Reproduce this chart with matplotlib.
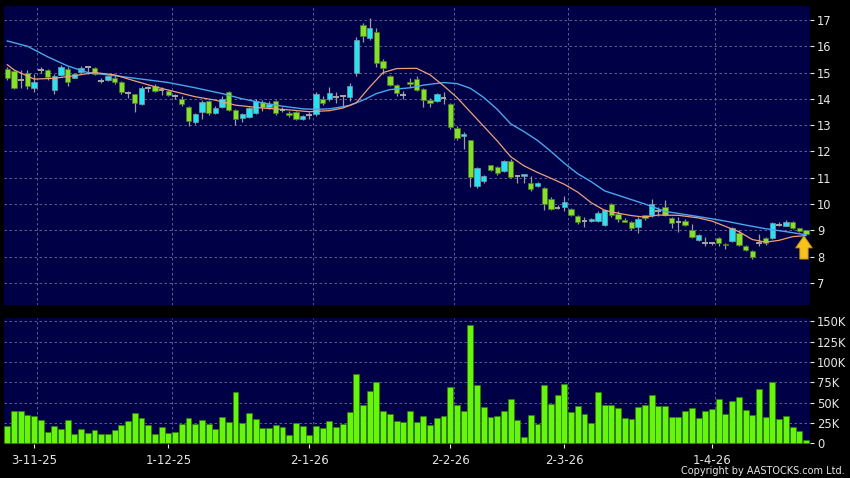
import matplotlib
matplotlib.use("Agg")
import matplotlib.pyplot as plt
import numpy as np

# daily OHLC (HKD)
opens = [15.14, 15.06, 14.70, 15.00, 14.43, 15.10, 15.10, 14.34, 14.91, 15.14,
         14.81, 15.01, 15.22, 15.19, 14.68, 14.72, 14.81, 14.65, 14.21, 14.17,
         13.80, 14.40, 14.50, 14.34, 14.30, 14.12, 14.00, 13.70, 13.11, 13.49,
         13.92, 13.45, 13.70, 14.25, 13.58, 13.26, 13.32, 13.45, 13.87, 13.69,
         13.90, 13.58, 13.48, 13.51, 13.24, 13.39, 13.41, 13.98, 13.98, 14.06,
         14.10, 14.06, 14.97, 16.81, 16.30, 16.56, 15.45, 14.85, 14.53, 14.13,
         14.65, 14.76, 14.38, 13.97, 13.90, 14.05, 13.80, 12.88, 12.58, 12.43,
         10.69, 10.86, 11.48, 11.42, 11.25, 11.65, 11.06, 11.06, 10.80, 10.68,
         10.62, 10.20, 9.85, 9.90, 9.81, 9.56, 9.37, 9.37, 9.37, 9.20,
         10.00, 9.62, 9.39, 9.30, 9.12, 9.58, 9.58, 9.75, 9.87, 9.47,
         9.30, 9.37, 9.00, 8.65, 8.51, 8.52, 8.70, 8.48, 8.61, 8.89,
         8.42, 8.22, 8.50, 8.70, 8.71, 9.22, 9.18, 9.32, 9.07, 9.00]
closes = [14.81, 14.43, 14.70, 14.47, 14.65, 15.10, 14.82, 14.88, 15.22, 14.65,
          14.94, 15.19, 15.22, 14.94, 14.68, 14.88, 14.63, 14.25, 14.21, 13.83,
          14.40, 14.40, 14.30, 14.34, 14.15, 14.12, 13.80, 13.16, 13.41, 13.87,
          13.45, 13.67, 14.00, 13.58, 13.24, 13.41, 13.67, 13.92, 13.69, 13.79,
          13.45, 13.58, 13.38, 13.22, 13.35, 13.39, 14.17, 13.83, 14.21, 14.06,
          14.10, 14.47, 16.24, 16.39, 16.68, 15.38, 15.16, 14.53, 14.21, 14.13,
          14.57, 14.34, 13.96, 13.86, 14.19, 14.05, 12.94, 12.50, 12.66, 11.04,
          11.37, 11.06, 11.29, 11.17, 11.65, 11.04, 11.06, 11.13, 10.56, 10.80,
          9.99, 9.82, 9.85, 10.08, 9.60, 9.30, 9.37, 9.43, 9.67, 9.76,
          9.58, 9.43, 9.33, 9.08, 9.43, 9.45, 10.00, 9.75, 9.58, 9.27,
          9.30, 9.22, 8.75, 8.82, 8.51, 8.52, 8.52, 8.43, 9.08, 8.44,
          8.24, 8.00, 8.50, 8.50, 9.29, 9.22, 9.32, 9.08, 8.98, 8.87]
highs = [15.20, 15.10, 15.10, 15.10, 14.95, 15.20, 15.15, 14.95, 15.28, 15.20,
         15.00, 15.26, 15.25, 15.22, 14.80, 14.92, 14.92, 14.68, 14.28, 14.20,
         14.48, 14.50, 14.55, 14.45, 14.35, 14.20, 14.10, 13.73, 13.45, 13.95,
         13.95, 13.72, 14.10, 14.30, 13.60, 13.45, 13.70, 14.00, 13.95, 13.92,
         13.95, 13.70, 13.55, 13.55, 13.38, 13.50, 14.25, 14.10, 14.45, 14.25,
         14.15, 14.60, 16.35, 16.88, 17.09, 16.70, 15.50, 14.92, 14.55, 14.30,
         14.80, 14.85, 14.40, 14.05, 14.22, 14.25, 13.85, 12.98, 12.72, 12.45,
         11.42, 11.12, 11.50, 11.45, 11.68, 11.70, 11.12, 11.15, 11.08, 10.85,
         10.65, 10.25, 9.98, 10.30, 9.85, 9.60, 9.50, 9.48, 9.75, 9.80,
         10.05, 9.72, 9.45, 9.35, 9.50, 9.60, 10.18, 9.90, 10.15, 9.50,
         9.50, 9.42, 9.25, 8.85, 8.75, 8.55, 8.75, 8.50, 9.12, 9.00,
         8.45, 8.25, 8.85, 8.75, 9.32, 9.30, 9.40, 9.35, 9.10, 9.02]
lows = [14.72, 14.38, 14.40, 14.38, 14.25, 15.00, 14.70, 14.20, 14.85, 14.50,
        14.78, 14.98, 14.94, 14.90, 14.62, 14.68, 14.55, 14.20, 14.05, 13.50,
        13.78, 14.25, 14.25, 14.15, 14.10, 14.00, 13.72, 12.98, 13.05, 13.25,
        13.40, 13.42, 13.65, 13.55, 13.00, 13.10, 13.28, 13.42, 13.55, 13.60,
        13.40, 13.50, 13.32, 13.20, 13.20, 13.25, 13.35, 13.75, 13.90, 13.85,
        13.70, 13.90, 14.87, 16.15, 16.25, 15.20, 14.95, 14.48, 14.10, 14.00,
        14.45, 14.30, 13.70, 13.68, 13.88, 13.80, 12.85, 12.43, 12.10, 10.64,
        10.62, 10.80, 11.25, 11.10, 11.20, 11.00, 10.80, 10.80, 10.50, 10.65,
        9.78, 9.78, 9.80, 9.75, 9.55, 9.25, 9.13, 9.30, 9.30, 9.15,
        9.50, 9.30, 9.30, 9.00, 8.90, 9.40, 9.50, 9.55, 9.55, 9.10,
        8.95, 9.18, 8.72, 8.60, 8.42, 8.45, 8.40, 8.30, 8.55, 8.40,
        8.20, 7.92, 8.42, 8.45, 8.68, 9.15, 9.15, 9.05, 8.95, 8.85]

# daily volume, thousands of shares
volumes_k = [21.7, 39.6, 39.6, 35.1, 33.9, 28.2, 13.5, 21.3, 18.0, 28.2,
             11.9, 17.2, 13.1, 16.3, 11.9, 11.0, 15.9, 22.5, 27.4, 36.8,
             31.5, 22.5, 11.4, 20.0, 13.1, 13.9, 23.3, 31.1, 23.7, 28.2,
             24.1, 17.6, 32.7, 25.7, 62.9, 25.3, 36.8, 29.4, 18.4, 18.8,
             22.5, 19.6, 10.2, 24.5, 21.3, 9.8, 20.8, 18.4, 27.4, 20.4,
             23.3, 38.0, 85.0, 47.0, 64.2, 74.8, 39.2, 35.6, 27.4, 26.6,
             40.1, 25.7, 33.5, 22.0, 30.7, 33.5, 68.7, 46.6, 39.2, 145.0,
             71.5, 44.5, 32.7, 33.5, 40.1, 54.4, 28.6, 8.2, 34.3, 23.3,
             71.9, 47.8, 59.3, 72.7, 38.0, 45.8, 36.4, 24.5, 63.3, 46.6,
             47.0, 43.3, 30.7, 29.4, 44.5, 47.0, 58.9, 45.8, 45.8, 32.7,
             32.7, 40.1, 42.9, 30.7, 39.6, 42.1, 54.4, 36.0, 51.9, 57.2,
             41.3, 34.7, 67.0, 31.9, 75.2, 29.8, 33.1, 20.4, 15.5, 4.5]

# moving averages read at sample days
ma_short_idx = [0, 1, 4, 7, 10, 13, 16, 19, 22, 25, 28, 31, 34, 38, 42, 45, 48, 50, 52, 54,
                56, 58, 61, 63, 65, 67, 69, 71, 73, 75, 77, 79, 81, 83, 85, 87, 89, 91, 93, 95,
                97, 100, 103, 105, 107, 109, 111, 113, 115, 117, 119]
ma_short = [15.30, 15.10, 14.75, 14.78, 14.88, 15.00, 14.91, 14.68, 14.46, 14.27,
            14.08, 13.95, 13.76, 13.65, 13.58, 13.51, 13.55, 13.65, 13.85, 14.45,
            15.00, 15.15, 15.16, 14.91, 14.50, 14.05, 13.50, 12.95, 12.40, 11.80,
            11.45, 11.20, 10.98, 10.75, 10.45, 10.05, 9.76, 9.65, 9.56, 9.50,
            9.58, 9.57, 9.47, 9.35, 9.15, 8.95, 8.65, 8.55, 8.62, 8.76, 8.80]
ma_long_idx = [0, 3, 6, 9, 12, 16, 20, 24, 28, 32, 35, 38, 41, 44, 46, 48, 50, 51, 53, 55,
               57, 60, 62, 65, 67, 69, 71, 73, 75, 77, 79, 81, 83, 85, 87, 89, 92, 95, 98, 101,
               104, 107, 110, 113, 116, 119]
ma_long = [16.20, 16.00, 15.60, 15.25, 15.00, 14.88, 14.75, 14.62, 14.42, 14.20,
           14.00, 13.85, 13.72, 13.62, 13.60, 13.62, 13.70, 13.75, 13.95, 14.20,
           14.35, 14.42, 14.52, 14.62, 14.58, 14.40, 14.05, 13.60, 13.05, 12.75,
           12.42, 12.00, 11.55, 11.15, 10.85, 10.50, 10.25, 10.00, 9.72, 9.60,
           9.48, 9.35, 9.20, 9.06, 8.95, 8.83]

date_ticks = [4, 24, 45, 66, 83, 105]
date_labels = ["3-11-25", "1-12-25", "2-1-26", "2-2-26", "2-3-26", "1-4-26"]
price_ticks = [7, 8, 9, 10, 11, 12, 13, 14, 15, 16, 17]
vol_ticks_k = [0, 25, 50, 75, 100, 125, 150]
vol_labels = ["0", "25K", "50K", "75K", "100K", "125K", "150K"]

BG = "#000046"
GRID = "#6c6c9c"
TXT = "#e6e6e6"
UP = "#27e3f2"
DOWN = "#84e02a"
DOJI = "#a8a8a8"
WICK = "#9c9c9c"

plt.rcParams["font.family"] = ["DejaVu Sans"]

fig = plt.figure(figsize=(8.5, 4.78), dpi=100, facecolor="black")
ax = fig.add_axes([4 / 850, 1 - 305 / 478, 806 / 850, 299 / 478], facecolor=BG)
axv = fig.add_axes([4 / 850, 1 - 444 / 478, 806 / 850, 126 / 478], facecolor=BG)

n = len(opens)
x = np.arange(n)
o = np.array(opens)
c = np.array(closes)
h = np.array(highs)
l = np.array(lows)

# grid first so candles sit on top
for a in (ax, axv):
    for t in date_ticks:
        a.axvline(t + 0.5, color=GRID, lw=0.6, ls=(0, (3, 3)), zorder=0)
for p in price_ticks:
    ax.axhline(p, color=GRID, lw=0.6, ls=(0, (3, 3)), zorder=0)
for v in vol_ticks_k[1:]:
    axv.axhline(v * 1000, color=GRID, lw=0.6, ls=(0, (3, 3)), zorder=0)

# candles
ax.vlines(x, l, h, color=WICK, lw=0.9, zorder=2)
up = c > o
down = c < o
flat = c == o
ax.bar(x[up], (c - o)[up], bottom=o[up], width=0.8, color=UP,
       edgecolor="#7a9aa0", lw=0.5, zorder=3)
ax.bar(x[down], (o - c)[down], bottom=c[down], width=0.8, color=DOWN,
       edgecolor="#4f7a25", lw=0.5, zorder=3)
ax.hlines(c[flat], x[flat] - 0.42, x[flat] + 0.42, color=DOJI, lw=1.4, zorder=3)

# moving averages
ax.plot(ma_long_idx, ma_long, color="#4aa6ec", lw=1.0, zorder=4)
ax.plot(ma_short_idx, ma_short, color="#eea07a", lw=0.9, zorder=4)

# marker arrow on the last day
ax.annotate("", xy=(n - 1.3, 8.9), xytext=(n - 1.3, 7.8),
            arrowprops=dict(arrowstyle="simple,head_width=1.1,head_length=0.8,tail_width=0.55",
                            fc="#f6c21c", ec="#b88400", lw=0.6, mutation_scale=11),
            zorder=6)

# volume
vol = np.array(volumes_k) * 1000
axv.bar(x, vol, width=0.88, color="#66f50c", edgecolor="#2f7d00", lw=0.5, zorder=3)

for a in (ax, axv):
    a.set_xlim(-0.49, 119.6)
    for s in a.spines.values():
        s.set_visible(False)
    a.yaxis.tick_right()
    a.tick_params(axis="y", colors=TXT, labelsize=8.3, length=3, width=0.8, pad=2)

ax.set_ylim(6.16, 17.53)
ax.set_yticks(price_ticks)
ax.set_xticks([])

axv.set_ylim(-800, 154000)
axv.set_yticks([v * 1000 for v in vol_ticks_k])
axv.set_yticklabels(vol_labels)
axv.set_xticks(date_ticks)
axv.set_xticklabels(date_labels)
axv.tick_params(axis="x", colors=TXT, labelsize=8.5, length=3, width=0.8, pad=4)

fig.text(845 / 850, 1 - 471 / 478, "Copyright by AASTOCKS.com Ltd.", color=TXT,
         fontsize=7, ha="right", va="center")

fig.savefig("out.png", dpi=100, facecolor="black")
